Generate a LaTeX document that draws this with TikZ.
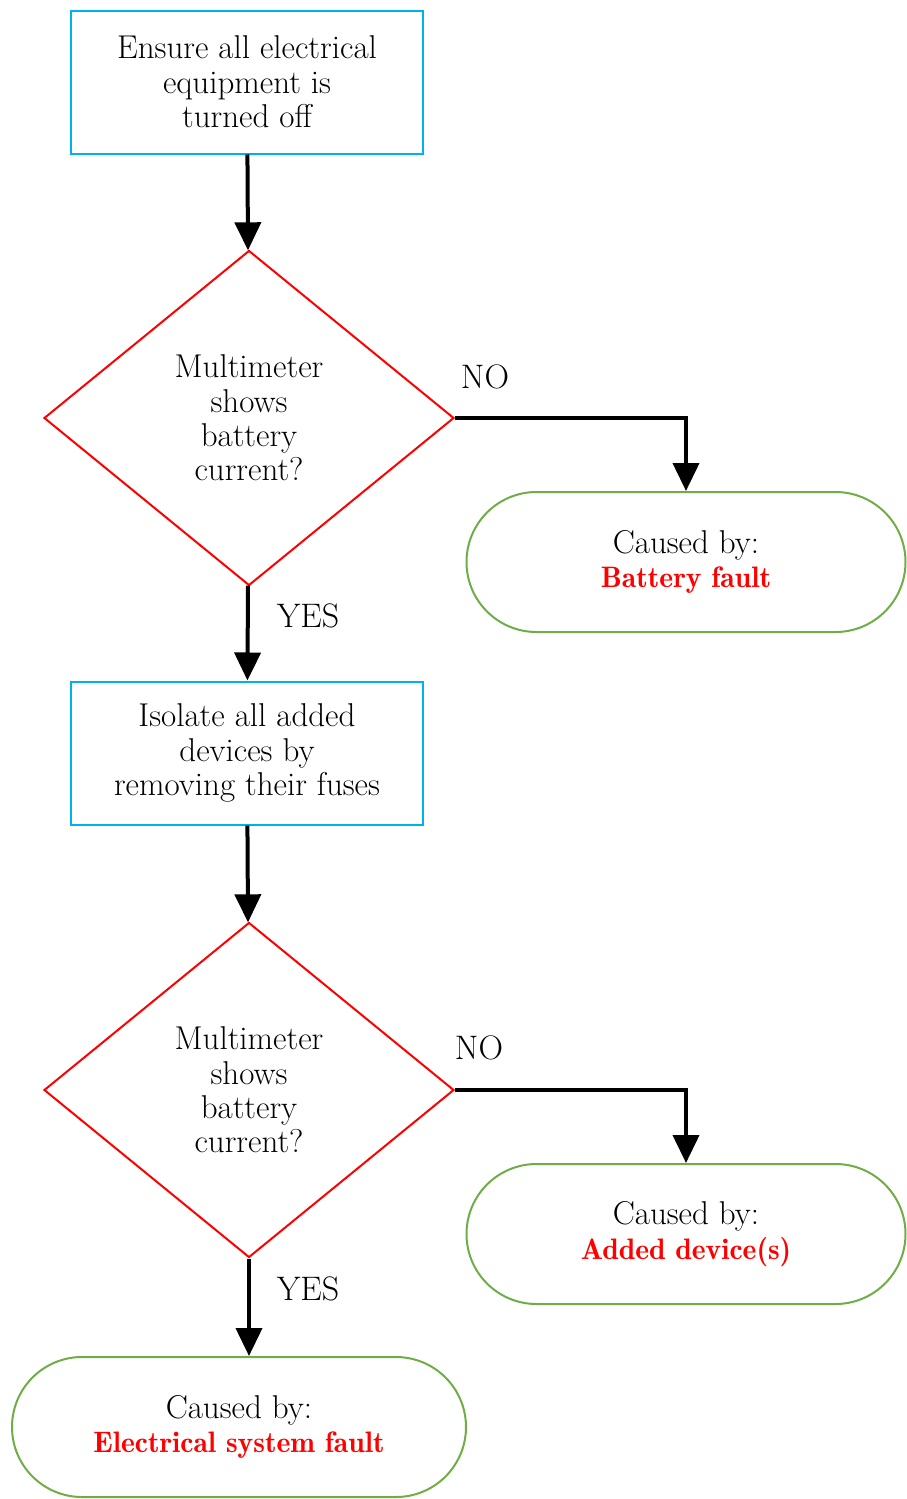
\documentclass[tikz,border=0pt]{standalone}
\usepackage{fontspec}
\usepackage{tikz}
\usetikzlibrary{positioning, shapes.geometric, arrows.meta}

\newfontfamily\demifont{lmromandemi10-regular.otf}
\newcommand{\faulttext}[1]{\textcolor{faultred}{\demifont\fontsize{14.8}{17.2}\selectfont #1}}

\definecolor{boxblue}{HTML}{00B0F0}
\definecolor{termgreen}{HTML}{70AD47}
\definecolor{faultred}{HTML}{FF0000}

\begin{document}
\begin{tikzpicture}[
        x=0.5pt, y=-0.5pt,
        font=\fontsize{16.5}{17.2}\selectfont,
        process/.style={rectangle, draw=boxblue, line width=1pt, minimum width=176pt, minimum height=71.5pt, inner sep=0pt, align=center},
        decision/.style={diamond, draw=faultred, line width=1pt, minimum width=205pt, minimum height=167.5pt, inner sep=0pt, align=center},
        terminal/.style={rectangle, rounded corners=35pt, draw=termgreen, line width=1pt, minimum width=219.5pt, minimum height=70pt, inner sep=0pt, align=center},
        answer/.style={font=\fontsize{17}{19}\selectfont},
        flow/.style={-{Triangle[width=13pt, length=14pt]}, line width=2pt}
    ]

        \useasboundingbox (0,0) rectangle (906,1499);

        % Steps
        \node[process] (step-1) at (247,82) {Ensure all electrical\\equipment is\\turned off};
        \node[process] (step-2) at (247,753) {Isolate all added\\devices by\\removing their fuses};

        % Checks
        \foreach \name/\y in {1/418, 2/1090}
        {
            \node[decision] (check-\name) at (249,\y) {Multimeter\\shows\\battery\\current?};
        }

        % Causes
        \node[terminal] (cause-1) at (686,562) {Caused by:\\\faulttext{Battery fault}};
        \node[terminal] (cause-2) at (686,1234) {Caused by:\\\faulttext{Added device(s)}};
        \node[terminal, minimum width=227pt] (cause-3) at (239,1427) {Caused by:\\\faulttext{Electrical system fault}};

        % Answers
        \node[answer] (no-1) at (485,377) {NO};
        \node[answer] (yes-1) at (308,616) {YES};
        \node[answer] (no-2) at (479,1048) {NO};
        \node[answer] (yes-2) at (308,1289) {YES};

        % Connections
        \draw[flow] (step-1) -- (check-1);
        \draw[flow] (check-1) -- (step-2);
        \draw[flow] (step-2) -- (check-2);
        \draw[flow] (check-2) -- (cause-3.north -| check-2.south);
        \draw[flow] (check-1.east) -| (cause-1.north);
        \draw[flow] (check-2.east) -| (cause-2.north);

    \end{tikzpicture}
\end{document}
